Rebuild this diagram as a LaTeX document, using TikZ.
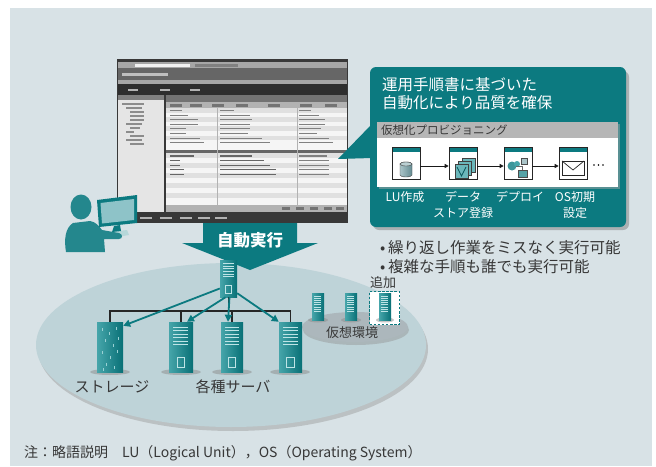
\documentclass[tikz,border=0pt]{standalone}
\usepackage{fontspec}
\setmainfont{Noto Sans CJK JP}
\usetikzlibrary{arrows.meta,calc}

\definecolor{bgc}{RGB}{216,226,230}
\definecolor{tealc}{RGB}{12,122,128}
\definecolor{ellc}{RGB}{190,211,216}
\definecolor{virc}{RGB}{172,183,188}
\definecolor{srvL}{RGB}{70,165,170}
\definecolor{srvD}{RGB}{8,112,118}
\definecolor{srvLine}{RGB}{190,228,230}
\definecolor{txtc}{RGB}{55,55,55}
\definecolor{hdrgray}{RGB}{182,182,182}
\definecolor{scrLight}{RGB}{142,195,200}
\definecolor{cylL}{RGB}{170,196,200}
\definecolor{cylD}{RGB}{100,140,146}

\tikzset{
  fs/.style={font=\fontsize{#1}{#1}\selectfont},
  txt/.style={inner sep=0pt, text=txtc},
  wtxt/.style={inner sep=0pt, text=white},
  srvbody/.style 2 args={rectangle, inner sep=0pt, minimum width=#1pt, minimum height=#2pt,
    left color=srvL, right color=srvD},
  icon/.style={rectangle, draw=black!85, line width=0.6pt, fill=white, inner sep=0pt,
    minimum width=28pt, minimum height=32pt,
    path picture={\fill[tealc] (path picture bounding box.north west) rectangle ([yshift=-5pt]path picture bounding box.north east);}},
  flow/.style={draw=black!90, line width=0.9pt, -{Triangle[length=4pt,width=4pt]}},
  push/.style={draw=tealc, line width=1.8pt, -{Triangle[length=7pt,width=7pt]}},
  bus/.style={draw=black!85, line width=1.1pt},
  faceline/.style={draw=srvLine, line width=0.5pt},
  rowtext/.style={draw=black!50, line width=1.1pt},
}

% front panel of a server node: name, width, height
\newcommand\srvface[3]{%
  \begin{scope}[shift={(#1.north west)}]
    \foreach \k in {0,...,5}
      \draw[faceline] ({#2*0.18},{#3*(0.1+0.07*\k)}) -- ({#2*0.82},{#3*(0.1+0.07*\k)});
    \draw[faceline, line width=0.6pt] ({#2*0.34},{#3*0.7}) rectangle ({#2*0.66},{#3*0.9});
  \end{scope}}
% front panel of a small virtual server node
\newcommand\vsrvface[1]{%
  \begin{scope}[shift={(#1.north west)}]
    \foreach \k in {0,...,7}
      \draw[faceline, line width=0.45pt] (2.5,{3+2.2*\k}) -- (9.5,{3+2.2*\k});
  \end{scope}}
% front panel of the storage node
\newcommand\storface[1]{%
  \begin{scope}[shift={(#1.north west)}]
    \foreach \x/\y in {5/6,12/10,19/5,8/17,16/22,21/15,5/29,13/34,20/28,9/41,17/44,6/46}
      \draw[faceline, draw=srvLine!70!srvL] (\x,\y) -- (\x,\y+3);
  \end{scope}}

\begin{document}
\begin{tikzpicture}[x=1pt,y=-1pt]
\useasboundingbox (0,0) rectangle (656,466);
\fill[white] (0,0) rectangle (656,466);
\fill[bgc] (10,8) rectangle (652,466);

% ---- managed area and virtual environment ----
\fill[black!40, opacity=0.45] (233,349) ellipse [x radius=195pt, y radius=82pt];
\fill[ellc] (231,345) ellipse [x radius=195pt, y radius=82pt];
\fill[black!45, opacity=0.4] (356,330) ellipse [x radius=53pt, y radius=15pt];
\fill[virc] (355,327) ellipse [x radius=53pt, y radius=15pt];

% ---- operation console window ----
\begin{scope}
  \fill[black!78] (117,59) rectangle (348,223);
  \fill[black!35] (118,62) rectangle (347,68);
  \fill[black!5] (135,63.5) rectangle (190,66.5);
  \fill[black!50] (195,63.5) rectangle (238,66.5);
  \fill[black!60] (118,68) rectangle (347,80);
  \fill[black!25] (122,72.5) rectangle (168,75.5);
  \fill[black!35] (118,80) rectangle (347,84);
  \fill[black!82] (118,84) rectangle (347,95);
  \foreach \x in {128,160,190} \fill[black!30] (\x,88.5) rectangle (\x+10,90.5);
  % tree pane
  \fill[black!10] (118,95) rectangle (164,212);
  \fill[black!50] (118,95) rectangle (164,100);
  \foreach \x/\y/\l in {122/104/22,126/108/16,130/112/14,130/116/14,130/120/14,126/124/16,130/128/10,126/132/8,130/136/14,126/140/16,130/144/14}
    \draw[black!45, line width=1.1pt] (\x,\y) -- (\x+\l,\y);
  % table pane
  \fill[black!4] (166,95) rectangle (347,212);
  \fill[black!55] (166,95) rectangle (347,102);
  \fill[black!30] (166,102) rectangle (347,108);
  \foreach \x in {170,190,212,236,268,300,325} \fill[black!55] (\x,103.5) rectangle (\x+12,106.5);
  \foreach \r in {0,2,4,6} \fill[black!12] (166,{108+4.6*\r}) rectangle (347,{112.6+4.6*\r});
  \foreach \r/\a/\b/\c in {0/12/14/12,1/18/30/20,2/28/32/26,3/28/30/26,4/16/30/22,5/16/28/18,6/30/42/30,7/34/50/34}
    {\draw[rowtext] (170,{110.5+4.6*\r}) -- ++(\a,0);
     \draw[rowtext] (220,{110.5+4.6*\r}) -- ++(\b,0);
     \draw[rowtext] (299,{110.5+4.6*\r}) -- ++(\c,0);}
  \fill[black!60] (166,150) rectangle (347,153);
  \foreach \r in {0,2,4,6,8} \fill[black!12] (166,{153+5*\r}) rectangle (347,{158+5*\r});
  \foreach \r/\a/\b/\c in {0/24/32/28,1/10/44/30,2/10/50/30,3/14/56/30,4/14/56/30}
    {\draw[rowtext, draw=black!60] (170,{156+4.6*\r}) -- ++(\a,0);
     \draw[rowtext, draw=black!60] (220,{156+4.6*\r}) -- ++(\b,0);
     \draw[rowtext] (299,{156+4.6*\r}) -- ++(\c,0);}
  \draw[black!30, line width=0.4pt] (217,108) -- (217,205) (297,108) -- (297,205);
  \fill[black!30] (166,205) rectangle (347,212);
  \foreach \x in {282,296,310,324,336} \fill[black!55] (\x,207) rectangle (\x+8,210);
  \foreach \x in {140,160,180,198,215} \fill[black!30] (\x,216.5) rectangle (\x+12,218.5);
\end{scope}

% ---- callout ----
\fill[black!50, opacity=0.5, rounded corners=6pt] (373,71) rectangle (629,230);
\fill[tealc] (338,159) -- (372,124) -- (372,158) -- cycle;
\fill[tealc, rounded corners=6pt] (370,67) rectangle (626,227);
\node[wtxt, fs=15.5, anchor=west] (t1) at (382,85) {運用手順書に基づいた};
\node[wtxt, fs=15.5, anchor=west] (t2) at (382,103) {自動化により品質を確保};
\fill[black!35, opacity=0.5] (379,124) rectangle (620,189);
\fill[hdrgray] (377,122) rectangle (618,138);
\fill[white] (377,138) rectangle (618,187);
\node[txt, fs=11.5, anchor=west] (hdr) at (381,130) {仮想化プロビジョニング};

\node[icon] (i1) at (406,163) {};
\node[icon] (i2) at (463,163) {};
\node[icon] (i3) at (518,163) {};
\node[icon] (i4) at (573,163) {};
\draw[flow] ([yshift=-3pt]i1.east) -- ([yshift=-3pt]i2.west);
\draw[flow] ([yshift=-3pt]i2.east) -- ([yshift=-3pt]i3.west);
\draw[flow] ([yshift=-3pt]i3.east) -- ([yshift=-3pt]i4.west);
\foreach \x in {594,598.5,603} \fill[black] (\x,165) circle (0.9pt);

% database
\draw[black!75, line width=0.4pt, left color=cylL, right color=cylD]
  (400,164) -- (400,175) arc[start angle=180, end angle=360, x radius=6pt, y radius=2pt]
  -- (412,164) arc[start angle=0, end angle=180, x radius=6pt, y radius=2pt] -- cycle;
\draw[black!75, line width=0.4pt, fill=cylL!80!white] (406,164) ellipse [x radius=6pt, y radius=2pt];
% data store pages
\foreach \dx/\dy in {7/-6,3.5/-3,0/0}
  \draw[black!75, line width=0.4pt, fill=srvL!80!white] ({455+\dx},{164+\dy}) rectangle ({468+\dx},{178+\dy});
\draw[tealc!70!black, line width=0.8pt] (457,167) -- (461.5,176) -- (466,167);
% deployment
\fill[tealc!80] (512,166) circle (4.5pt);
\fill[srvL] (517,164) circle (3pt);
\draw[black!70, line width=0.4pt, fill=cylL] (521,158) rectangle (527,164);
\draw[black!70, line width=0.4pt, fill=tealc!70] (518,170) rectangle (527,177);
\draw[black!60, line width=0.5pt] (516,166) -- (522,166) -- (522,170);
% mail
\draw[black!85, line width=0.7pt] (562,161) rectangle (584,175);
\draw[black!85, line width=0.7pt] (562,161) -- (573,170) -- (584,161);

\node[wtxt, fs=12] (l1) at (405,197) {LU作成};
\node[wtxt, fs=12] (l2) at (463,197) {データ};
\node[wtxt, fs=12] (l2b) at (463,213) {ストア登録};
\node[wtxt, fs=12] (l3) at (520,197) {デプロイ};
\node[wtxt, fs=12] (l4) at (575,197) {OS初期};
\node[wtxt, fs=12] (l4b) at (575,213) {設定};

% ---- operator ----
\fill[tealc!90] (81,207) ellipse [x radius=10.5pt, y radius=12.5pt];
\fill[white!70!tealc] (103,233) -- (127,230) -- (129,235) -- (105,239) -- cycle;
\fill[tealc!90] (66,252) .. controls (64,240) and (65,228) .. (73,223)
  -- (90,221) .. controls (96,222) and (99,226) .. (102,230)
  -- (119,233) .. controls (123,234) and (123,239) .. (119,239)
  -- (104,239) -- (105,252) -- cycle;
\fill[tealc] (97,200) -- (137,195) -- (137,223) -- (99,227) -- cycle;
\fill[scrLight] (100.5,203) -- (134,199) -- (134,220) -- (102,223.5) -- cycle;
\fill[tealc] (114,226) -- (120,225) -- (121,231) -- (112,232) -- cycle;

% ---- automatic execution ----
\fill[tealc] (203,223) -- (297,223) -- (297,243) -- (318,243) -- (250,270)
  -- (182,243) -- (203,243) -- cycle;
\node[wtxt, font={\fontsize{16.5}{16.5}\selectfont\bfseries}] (auto) at (250,240) {自動実行};

% ---- servers ----
\coordinate (busL) at (110,311);
\foreach \x in {110,181,232,290}
  \fill[black!45, opacity=0.5] (\x,372) ellipse [x radius=20pt, y radius=3pt];
\foreach \x in {318,351}
  \fill[black!45, opacity=0.5] (\x,320) ellipse [x radius=10pt, y radius=2.5pt];

\node[srvbody={17}{37}] (c) at (228.5,278.5) {};
\node[srvbody={26}{50}] (st) at (110,347) {};
\node[srvbody={24}{50}] (s2) at (181,347) {};
\node[srvbody={22}{50}] (s3) at (232,347) {};
\node[srvbody={23}{50}] (s4) at (290.5,347) {};
\srvface{c}{17}{37}
\storface{st}
\srvface{s2}{24}{50}
\srvface{s3}{22}{50}
\srvface{s4}{23}{50}

\draw[bus] (st.north) -- (busL) -| (s4.north);
\draw[bus] (s2.north) -- (s2.north |- busL);
\draw[bus] (s3.north) -- (s3.north |- busL);
\draw[bus] (c.south) -- (c.south |- busL);

\draw[push] ([yshift=-10pt]c.west) -- ([yshift=-4pt]st.north east);
\draw[push] ([xshift=-3pt]c.south) -- ([xshift=6pt]s2.north);
\draw[push] ([xshift=1pt]c.south) -- ([xshift=-4pt]s3.north);
\draw[push] ([yshift=4pt]c.south east) -- (s4.north west);

\node[srvbody={12}{27}] (v1) at (318,306.5) {};
\node[srvbody={12}{27}] (v2) at (351,306.5) {};
\node[rectangle, draw=tealc, fill=white, line width=1.8pt, dash pattern=on 2.5pt off 1.6pt,
  minimum width=30pt, minimum height=33pt, inner sep=0pt] (add) at (384.5,308) {};
\fill[black!45, opacity=0.5] (385,320) ellipse [x radius=9pt, y radius=2.5pt];
\node[srvbody={12}{27}] (v3) at (385,306.5) {};
\vsrvface{v1}
\vsrvface{v2}
\vsrvface{v3}

% ---- labels ----
\node[txt, fs=13] (addl) at (383,283) {追加};
\node[txt, fs=13] (venv) at (352,333) {仮想環境};
\node[txt, fs=15] (stl) at (112,387) {ストレージ};
\node[txt, fs=15] (svl) at (233,387) {各種サーバ};
\node[txt, fs=15.5, anchor=west] (b1) at (380,248) {\textbullet\,繰り返し作業をミスなく実行可能};
\node[txt, fs=15.5, anchor=west] (b2) at (380,267) {\textbullet\,複雑な手順も誰でも実行可能};
\node[txt, fs=14, anchor=west] (note) at (24,453) {注：略語説明　LU（Logical Unit），OS（Operating System）};
\end{tikzpicture}
\end{document}
